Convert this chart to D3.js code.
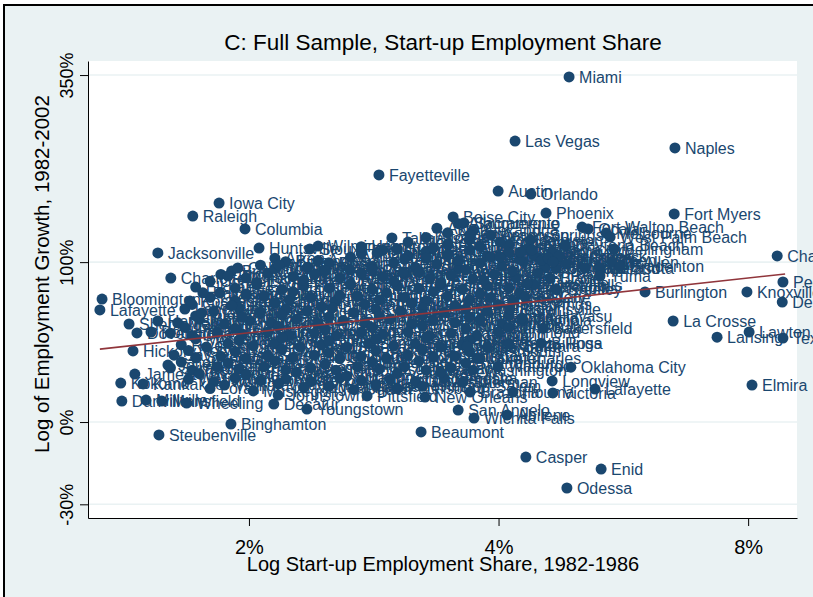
<!DOCTYPE html>
<html lang="en">
<head>
<meta charset="utf-8">
<style>
    body { margin: 0; background: #fff; }
    svg text { font-family: "Liberation Sans", Arial, sans-serif; }
    .lbl { font-size: 16px; fill: #1a476f; }
</style>
<script src="https://d3js.org/d3.v7.min.js"></script>
</head>
<body>
<svg id="chart" width="813" height="597"></svg>
<script>
// values are logs: [name, log start-up share, log(1 + growth)]
const topCities = [
    ["Miami", -3.023, 1.496], ["Las Vegas", -3.173, 1.218], ["Naples", -2.729, 1.188],
    ["Fayetteville", -3.551, 1.071], ["Austin", -3.220, 1.001], ["Orlando", -3.129, 0.988],
    ["Phoenix", -3.087, 0.906], ["Fort Myers", -2.731, 0.902], ["Boise City", -3.345, 0.889],
    ["Sacramento", -3.315, 0.863], ["Iowa City", -3.995, 0.949], ["Raleigh", -4.068, 0.893],
    ["Columbia", -3.923, 0.837], ["Fort Walton Beach", -2.987, 0.845], ["Ocala", -2.970, 0.837],
    ["Melbourne", -2.920, 0.819], ["West Palm Beach", -2.909, 0.802], ["Colorado Springs", -3.298, 0.811],
    ["Fort Pierce", -3.215, 0.780], ["Daytona Beach", -3.034, 0.767], ["Tallahassee", -3.515, 0.798],
    ["Huntsville", -3.884, 0.754], ["Wilmington", -3.720, 0.763], ["Sioux Falls", -3.743, 0.750],
    ["Bellingham", -2.898, 0.750], ["Panama City", -3.126, 0.746], ["Reno", -3.159, 0.737],
    ["Jacksonville", -4.165, 0.733], ["Clarksville", -3.556, 0.733], ["Laredo", -3.215, 0.715],
    ["Las Cruces", -3.081, 0.711], ["Gainesville", -3.068, 0.694], ["McAllen", -2.904, 0.694],
    ["Bradenton", -2.881, 0.676], ["Lakeland", -2.979, 0.668], ["Sarasota", -2.937, 0.668],
    ["Columbus", -3.943, 0.668], ["Madison", -3.829, 0.681], ["Jackson", -3.631, 0.659],
    ["Charleston", -3.484, 0.650], ["Bloomington", -3.970, 0.633], ["Charlotte", -4.129, 0.624],
    ["Bryan", -3.076, 0.624], ["Yuma", -2.937, 0.633]
];

const rightCities = [
    ["Charlottesville", -2.445, 0.720], ["Peoria", -2.429, 0.607], ["Burlington", -2.812, 0.564],
    ["Knoxville", -2.529, 0.564], ["Deltona", -2.431, 0.520], ["La Crosse", -2.734, 0.438],
    ["Lawton", -2.523, 0.390], ["Lansing", -2.612, 0.368], ["Texarkana", -2.429, 0.364],
    ["Elmira", -2.515, 0.160], ["Oklahoma City", -3.018, 0.238], ["Lafayette", -2.951, 0.143],
    ["Victoria", -3.068, 0.126], ["Longview", -3.070, 0.178], ["Eugene", -3.145, 0.542],
    ["Brownsville", -3.187, 0.490], ["Visalia", -3.154, 0.451], ["Bakersfield", -3.095, 0.407],
    ["Billings", -3.101, 0.342], ["Santa Barbara", -3.306, 0.329], ["Lake Charles", -3.279, 0.277],
    ["Sherman", -3.318, 0.173], ["Houma", -3.179, 0.130], ["Brazoria", -3.298, 0.130]
];

const leftCities = [
    ["Indianapolis", -3.993, 0.559], ["Rochester", -4.076, 0.525], ["Bloomington", -4.320, 0.533],
    ["Lafayette", -4.326, 0.486], ["State College", -4.043, 0.473], ["Harrisburg", -4.165, 0.438],
    ["Sheboygan", -4.245, 0.425], ["Dover", -4.223, 0.386], ["Portland", -4.184, 0.390],
    ["Hickory", -4.234, 0.308], ["Joliet", -4.137, 0.247], ["Jamestown", -4.229, 0.208],
    ["Kokomo", -4.268, 0.169], ["Kankakee", -4.206, 0.165], ["Danville", -4.265, 0.091],
    ["Millville", -4.198, 0.095], ["Mansfield", -4.154, 0.091], ["Wheeling", -4.085, 0.082],
    ["Binghamton", -3.962, -0.009], ["Steubenville", -4.162, -0.056]
];

const lowCities = [
    ["Johnstown", -3.831, 0.117], ["Decatur", -3.843, 0.078], ["Youngstown", -3.751, 0.056],
    ["Pittsfield", -3.584, 0.113], ["New Orleans", -3.423, 0.108], ["San Angelo", -3.331, 0.052],
    ["Wichita Falls", -3.287, 0.017], ["Abilene", -3.195, 0.030], ["Beaumont", -3.434, -0.043],
    ["Casper", -3.143, -0.152], ["Enid", -2.934, -0.204], ["Odessa", -3.029, -0.286]
];

// the dense middle of the cloud
const coreCities = [
    ["Akron", -3.39, 0.84], ["Albany", -3.36, 0.82], ["Albuquerque", -3.33, 0.86], ["Alexandria", -3.29, 0.83],
    ["Allentown", -3.47, 0.78], ["Altoona", -3.42, 0.80], ["Amarillo", -3.36, 0.77], ["Anchorage", -3.30, 0.79],
    ["Anderson", -3.24, 0.81], ["Ann Arbor", -3.19, 0.77], ["Anniston", -3.13, 0.79],
    ["Appleton", -3.60, 0.73], ["Asheville", -3.54, 0.745], ["Athens", -3.47, 0.72], ["Atlanta", -3.42, 0.74],
    ["Atlantic City", -3.36, 0.725], ["Augusta", -3.30, 0.745], ["Bangor", -3.25, 0.72], ["Baton Rouge", -3.19, 0.735],
    ["Battle Creek", -3.12, 0.72], ["Bay City", -3.07, 0.74],
    ["Benton Harbor", -3.88, 0.68], ["Birmingham", -3.81, 0.695], ["Bismarck", -3.75, 0.67], ["Boston", -3.69, 0.69],
    ["Boulder", -3.57, 0.675], ["Bremerton", -3.51, 0.69], ["Brockton", -3.45, 0.67], ["Buffalo", -3.39, 0.685],
    ["Canton", -3.33, 0.665], ["Cedar Rapids", -3.27, 0.69], ["Champaign", -3.21, 0.675], ["Chattanooga", -3.15, 0.695],
    ["Cheyenne", -3.09, 0.67], ["Chicago", -3.03, 0.685],
    ["Chico", -3.99, 0.64], ["Cincinnati", -3.92, 0.625], ["Cleveland", -3.86, 0.645], ["Corpus Christi", -3.79, 0.63],
    ["Cumberland", -3.73, 0.64], ["Dallas", -3.66, 0.625], ["Davenport", -3.60, 0.645], ["Dayton", -3.54, 0.63],
    ["Denver", -3.48, 0.64], ["Des Moines", -3.41, 0.62], ["Dothan", -3.35, 0.635], ["Dubuque", -3.29, 0.62],
    ["Duluth", -3.23, 0.64], ["Eau Claire", -3.17, 0.625], ["El Paso", -3.11, 0.645],
    ["Elkhart", -4.06, 0.585], ["Erie", -3.95, 0.58], ["Fargo", -3.89, 0.595], ["Flint", -3.82, 0.575],
    ["Florence", -3.76, 0.59], ["Fort Smith", -3.69, 0.58], ["Fort Wayne", -3.63, 0.595], ["Fresno", -3.57, 0.575],
    ["Gadsden", -3.50, 0.59], ["Glens Falls", -3.44, 0.58], ["Goldsboro", -3.38, 0.595], ["Grand Forks", -3.32, 0.575],
    ["Grand Junction", -3.25, 0.59], ["Grand Rapids", -3.19, 0.58], ["Great Falls", -3.12, 0.595], ["Greeley", -3.06, 0.575],
    ["Green Bay", -4.02, 0.54], ["Greensboro", -3.95, 0.525], ["Greenville", -3.87, 0.545], ["Hagerstown", -3.80, 0.53],
    ["Hartford", -3.74, 0.54], ["Hattiesburg", -3.67, 0.525], ["Honolulu", -3.61, 0.545], ["Houston", -3.55, 0.53],
    ["Janesville", -3.48, 0.54], ["Johnson City", -3.42, 0.525], ["Joplin", -3.36, 0.545], ["Kalamazoo", -3.30, 0.53],
    ["Kansas City", -3.24, 0.54], ["Killeen", -3.18, 0.525],
    ["Lancaster", -4.09, 0.49], ["Lawrence", -4.01, 0.48], ["Lewiston", -3.94, 0.495], ["Lexington", -3.88, 0.475],
    ["Lima", -3.81, 0.49], ["Lincoln", -3.75, 0.48], ["Little Rock", -3.68, 0.495], ["Los Angeles", -3.62, 0.475],
    ["Louisville", -3.56, 0.49], ["Lubbock", -3.49, 0.48], ["Lynchburg", -3.43, 0.495], ["Macon", -3.37, 0.475],
    ["Manchester", -3.31, 0.49], ["Medford", -3.25, 0.48],
    ["Memphis", -4.11, 0.43], ["Merced", -4.05, 0.445], ["Milwaukee", -3.98, 0.425], ["Minneapolis", -3.91, 0.44],
    ["Mobile", -3.85, 0.43], ["Modesto", -3.78, 0.445], ["Monroe", -3.72, 0.425], ["Montgomery", -3.65, 0.44],
    ["Muncie", -3.59, 0.43], ["Myrtle Beach", -3.52, 0.445], ["Nashville", -3.46, 0.425], ["New Haven", -3.40, 0.44],
    ["New London", -3.34, 0.43], ["New York", -3.27, 0.445], ["Norfolk", -3.21, 0.425], ["Olympia", -3.15, 0.44],
    ["Omaha", -4.13, 0.385], ["Owensboro", -4.07, 0.375], ["Parkersburg", -4.00, 0.39], ["Pensacola", -3.93, 0.38],
    ["Philadelphia", -3.86, 0.39], ["Pine Bluff", -3.80, 0.375], ["Pittsburgh", -3.73, 0.385], ["Providence", -3.67, 0.375],
    ["Provo", -3.60, 0.39], ["Pueblo", -3.54, 0.38], ["Racine", -3.47, 0.39], ["Rapid City", -3.41, 0.375],
    ["Reading", -3.35, 0.385], ["Redding", -3.28, 0.375], ["Richmond", -3.22, 0.39],
    ["Riverside", -4.10, 0.335], ["Roanoke", -4.03, 0.325], ["Rockford", -3.97, 0.34], ["Rocky Mount", -3.90, 0.33],
    ["Saginaw", -3.84, 0.34], ["Salem", -3.77, 0.325], ["Salinas", -3.71, 0.335], ["Salt Lake City", -3.64, 0.325],
    ["San Antonio", -3.58, 0.34], ["San Diego", -3.51, 0.33], ["San Francisco", -3.45, 0.34], ["San Jose", -3.38, 0.325],
    ["Santa Cruz", -3.32, 0.335], ["Santa Fe", -3.25, 0.325], ["Santa Rosa", -3.19, 0.34],
    ["Savannah", -4.12, 0.29], ["Scranton", -4.06, 0.28], ["Seattle", -3.99, 0.285], ["Sharon", -3.92, 0.275],
    ["Shreveport", -3.86, 0.29], ["Sioux City", -3.79, 0.28], ["South Bend", -3.73, 0.29], ["Spokane", -3.66, 0.275],
    ["Springfield", -3.60, 0.285], ["St. Cloud", -3.53, 0.275], ["St. Joseph", -3.47, 0.29], ["St. Louis", -3.40, 0.28],
    ["Stockton", -3.34, 0.285], ["Sumter", -3.27, 0.275],
    ["Syracuse", -4.13, 0.235], ["Tacoma", -4.07, 0.225], ["Tampa", -4.00, 0.24], ["Terre Haute", -3.94, 0.23],
    ["Toledo", -3.87, 0.24], ["Topeka", -3.81, 0.225], ["Trenton", -3.74, 0.235], ["Tucson", -3.67, 0.225],
    ["Tulsa", -3.61, 0.24], ["Tuscaloosa", -3.55, 0.23], ["Tyler", -3.48, 0.24], ["Utica", -3.42, 0.225],
    ["Waco", -3.35, 0.235], ["Washington", -3.29, 0.225], ["Waterloo", -3.22, 0.24],
    ["Wausau", -4.08, 0.185], ["Wichita", -4.01, 0.175], ["Williamsport", -3.95, 0.19], ["Worcester", -3.88, 0.18],
    ["Yakima", -3.81, 0.185], ["York", -3.74, 0.175], ["Yuba City", -3.66, 0.19], ["Fort Collins", -3.60, 0.18],
    ["Fort Lauderdale", -3.52, 0.185], ["Galveston", -3.45, 0.175], ["Kenosha", -3.37, 0.19],
    ["Lorain", -4.02, 0.145], ["Muskegon", -3.90, 0.135], ["Niagara Falls", -3.76, 0.15], ["Ogden", -3.62, 0.14],
    ["Petersburg", -3.50, 0.145]
];

// more of the cloud, sitting between the rows above
const coreCities2 = [
    ["Hamilton", -3.60, 0.76], ["Sumner", -3.50, 0.75], ["Richland", -3.40, 0.755], ["Bethlehem", -3.27, 0.76],
    ["Elyria", -3.14, 0.75], ["Kennewick", -3.05, 0.72],
    ["Aiken", -3.84, 0.71], ["Ames", -3.72, 0.70], ["Ashland", -3.63, 0.715], ["Auburn", -3.48, 0.705],
    ["Barnstable", -3.42, 0.71], ["Beaver", -3.33, 0.70], ["Benton", -3.24, 0.715], ["Biloxi", -3.16, 0.705],
    ["Bowling Green", -3.10, 0.70],
    ["Bristol", -3.96, 0.655], ["Brunswick", -3.84, 0.665], ["Carson City", -3.70, 0.655], ["Cedar Falls", -3.57, 0.66],
    ["Chambersburg", -3.44, 0.65], ["Chillicothe", -3.31, 0.66], ["Coeur d'Alene", -3.18, 0.655], ["Concord", -3.06, 0.665],
    ["Corvallis", -4.02, 0.61], ["Cookeville", -3.89, 0.605], ["Danbury", -3.76, 0.615], ["Dalton", -3.63, 0.60],
    ["Durham", -3.51, 0.61], ["Elizabethtown", -3.38, 0.605], ["El Centro", -3.26, 0.615], ["Evansville", -3.14, 0.60],
    ["Fairbanks", -4.04, 0.56], ["Fall River", -3.92, 0.555], ["Farmington", -3.79, 0.565], ["Fitchburg", -3.66, 0.55],
    ["Flagstaff", -3.53, 0.56], ["Fond du Lac", -3.40, 0.565], ["Frederick", -3.27, 0.555], ["Gary", -3.16, 0.56],
    ["Grand Island", -4.07, 0.51], ["Greenwood", -3.96, 0.505], ["Gulfport", -3.84, 0.515], ["Hanford", -3.71, 0.50],
    ["Harrisonburg", -3.59, 0.51], ["Hinesville", -3.46, 0.515], ["Holland", -3.34, 0.505], ["Hot Springs", -3.22, 0.51],
    ["Huntington", -4.06, 0.46], ["Idaho Falls", -3.93, 0.455], ["Ithaca", -3.82, 0.465], ["Jefferson City", -3.69, 0.455],
    ["Jonesboro", -3.55, 0.46], ["Kingsport", -3.43, 0.465], ["Kingston", -3.30, 0.455], ["Lake Havasu", -3.19, 0.46],
    ["Lebanon", -4.09, 0.41], ["Logan", -3.95, 0.405], ["Lowell", -3.83, 0.415], ["Mankato", -3.70, 0.40],
    ["Marion", -3.57, 0.41], ["Michigan City", -3.43, 0.415], ["Midland", -3.31, 0.405], ["Missoula", -3.19, 0.41],
    ["Morgantown", -4.06, 0.36], ["Morristown", -3.94, 0.355], ["Mount Vernon", -3.82, 0.365], ["Napa", -3.69, 0.35],
    ["Nashua", -3.56, 0.36], ["New Bedford", -3.42, 0.365], ["Newark", -3.30, 0.355],
    ["Norwich", -4.08, 0.31], ["Oshkosh", -3.95, 0.305], ["Oxnard", -3.82, 0.315], ["Palm Bay", -3.69, 0.30],
    ["Pocatello", -3.56, 0.31], ["Port Arthur", -3.43, 0.315], ["Portsmouth", -3.30, 0.305],
    ["Poughkeepsie", -4.10, 0.26], ["Prescott", -3.97, 0.255], ["Rome", -3.84, 0.265], ["Salisbury", -3.70, 0.25],
    ["Sandusky", -3.57, 0.26], ["Sebring", -3.44, 0.265], ["Spartanburg", -3.31, 0.255],
    ["Stamford", -4.05, 0.21], ["Statesville", -3.92, 0.205], ["Texas City", -3.78, 0.215], ["Tupelo", -3.64, 0.20],
    ["Valdosta", -3.50, 0.21], ["Vallejo", -3.38, 0.215],
    ["Ventura", -3.98, 0.16], ["Warner Robins", -3.83, 0.165], ["Wenatchee", -3.69, 0.155], ["Winchester", -3.56, 0.16],
    ["Winston-Salem", -3.43, 0.155]
];

// OLS fit, end points
const fitShare = [-4.326, -2.423];
const fitGrowth = [0.316, 0.642];

// axis ticks (percent)
const xTicks = [2, 4, 8];
const xTickLabels = ["2%", "4%", "8%"];
const yTicks = [350, 100, 0, -30];
const yTickLabels = ["350%", "100%", "0%", "-30%"];

const navy = "#1a476f";
const svg = d3.select("#chart");

// graph region + frame
svg.append("rect").attr("x", 4).attr("y", 5).attr("width", 830).attr("height", 620)
    .attr("fill", "#eaf2f3").attr("stroke", "#000").attr("stroke-width", 2);

const plotL = 88, plotR = 797, plotT = 61, plotB = 518;
svg.append("rect").attr("x", plotL).attr("y", plotT).attr("width", plotR - plotL).attr("height", plotB - plotT)
    .attr("fill", "#fff");

const x = d3.scaleLinear().domain([-4.359, -2.390]).range([plotL, plotR]);
const y = d3.scaleLinear().domain([-0.416, 1.565]).range([plotB, plotT]);

const yTickVals = yTicks.map(g => Math.log(1 + g / 100));
const xTickVals = xTicks.map(s => Math.log(s / 100));

// gridlines
svg.append("g").selectAll("line").data(yTickVals).join("line")
    .attr("x1", plotL).attr("x2", plotR)
    .attr("y1", d => y(d)).attr("y2", d => y(d))
    .attr("stroke", "#eaf2f3").attr("stroke-width", 1.6);

// points + labels
const allCities = [].concat(coreCities, coreCities2, topCities, leftCities, lowCities, rightCities);
const pts = svg.append("g");
allCities.forEach(c => {
    const cx = x(c[1]), cy = y(c[2]);
    pts.append("circle").attr("cx", cx).attr("cy", cy).attr("r", 5.5).attr("fill", navy);
    pts.append("text").attr("class", "lbl").attr("x", cx + 10).attr("y", cy).attr("dy", "0.36em").text(c[0]);
});

// fit line
svg.append("path")
    .datum(fitShare.map((s, i) => [s, fitGrowth[i]]))
    .attr("d", d3.line().x(d => x(d[0])).y(d => y(d[1])))
    .attr("fill", "none").attr("stroke", "#90353b").attr("stroke-width", 1.6);

// axes
const yAxis = svg.append("g").attr("transform", `translate(${plotL},0)`)
    .call(d3.axisLeft(y).tickValues(yTickVals).tickFormat((d, i) => yTickLabels[i]).tickSize(8).tickSizeOuter(0));
yAxis.selectAll("text")
    .attr("transform", "rotate(-90)").attr("x", 0).attr("y", -15).attr("dy", 0)
    .attr("text-anchor", "middle").attr("font-size", 18).attr("fill", "#000");

const xAxis = svg.append("g").attr("transform", `translate(0,${plotB})`)
    .call(d3.axisBottom(x).tickValues(xTickVals).tickFormat((d, i) => xTickLabels[i]).tickSize(8).tickSizeOuter(0));
xAxis.selectAll("text").attr("y", 22).attr("font-size", 20).attr("fill", "#000");

// titles
svg.append("text").attr("x", 443).attr("y", 50).attr("text-anchor", "middle")
    .attr("font-size", 22.5).text("C: Full Sample, Start-up Employment Share");
svg.append("text").attr("x", 443).attr("y", 571).attr("text-anchor", "middle")
    .attr("font-size", 20).text("Log Start-up Employment Share, 1982-1986");
svg.append("text").attr("transform", "translate(49,274) rotate(-90)").attr("text-anchor", "middle")
    .attr("font-size", 20.5).text("Log of Employment Growth, 1982-2002");
</script>
</body>
</html>
